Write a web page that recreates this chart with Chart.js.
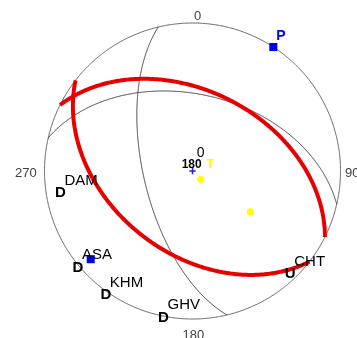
<!DOCTYPE html>
<html>
<head>
<meta charset="utf-8">
<script src="https://cdn.jsdelivr.net/npm/chart.js@4/dist/chart.umd.min.js"></script>
<style>
  html, body { margin: 0; padding: 0; background: #fff; }
  #wrap { width: 357px; height: 338px; }
</style>
</head>
<body>
<div id="wrap"><canvas id="c" width="357" height="338"></canvas></div>
<script>
// Fault-plane solutions: strike / dip (degrees, right-hand rule)
const redPlaneStrikes = [296.5, 127.8];
const redPlaneDips = [45, 44];
const blackPlaneStrikes = [166.6, 283.0];
const blackPlaneDips = [63, 47];

// Stations: azimuth, take-off angle, first-motion polarity
const stationNames = ['DAM', 'ASA', 'KHM', 'GHV', 'CHT'];
const stationAzimuths = [261.0, 230.2, 215.2, 191.3, 136.1];
const stationTakeoffs = [79.4, 90.9, 91.8, 90.1, 84.7];
const stationPolarities = ['D', 'D', 'D', 'D', 'U'];

// P and T axes (trend / plunge) of the two solutions
const pAxisTrends = [33.1, 229.1];
const pAxisPlunges = [0, 9.9];
const tAxisTrends = [135.4, 125.3];
const tAxisPlunges = [83.6, 50.4];

// Azimuth labels around the net
const compassLabels = ['0', '90', '180', '270'];

const D2R = Math.PI / 180;

// Lower-hemisphere equal-area (Schmidt) projection, unit primitive circle
function project(trend, plunge) {
  const r = Math.SQRT2 * Math.sin((90 - plunge) * D2R / 2);
  return { x: r * Math.sin(trend * D2R), y: r * Math.cos(trend * D2R) };
}

// Great circle for a plane: sweep lines lying in the plane from strike to strike+180
function greatCircle(strike, dip) {
  const s = strike * D2R, d = dip * D2R;
  const sh = [Math.cos(s), Math.sin(s), 0];
  const dh = [Math.cos(d) * Math.cos(s + Math.PI / 2), Math.cos(d) * Math.sin(s + Math.PI / 2), Math.sin(d)];
  const pts = [];
  for (let a = 0; a <= 180; a += 1) {
    const c = Math.cos(a * D2R), sn = Math.sin(a * D2R);
    const n = c * sh[0] + sn * dh[0];
    const e = c * sh[1] + sn * dh[1];
    const dn = Math.max(-1, Math.min(1, c * sh[2] + sn * dh[2]));
    const trend = Math.atan2(e, n) / D2R;
    const plunge = Math.asin(dn) / D2R;
    pts.push(project(trend, plunge));
  }
  return pts;
}

function primitive() {
  const pts = [];
  for (let a = 0; a <= 360; a += 1) pts.push(project(a, 0));
  return pts;
}

const stationPoints = stationNames.map((n, i) => project(stationAzimuths[i], 90 - stationTakeoffs[i]));
const pPoints = pAxisTrends.map((t, i) => project(t, pAxisPlunges[i]));
const tPoints = tAxisTrends.map((t, i) => project(t, tAxisPlunges[i]));

// tiny tension keeps Chart.js on its full path renderer (no per-column merging)
const lineDs = (data, color, width, order) => ({
  data, showLine: true, borderColor: color, borderWidth: width,
  pointRadius: 0, fill: false, tension: 0.0001, order
});

const datasets = [
  lineDs(primitive(), '#5a5a5a', 1, 5),
  ...blackPlaneStrikes.map((s, i) => lineDs(greatCircle(s, blackPlaneDips[i]), '#3a3a3a', 1, 4)),
  ...redPlaneStrikes.map((s, i) => lineDs(greatCircle(s, redPlaneDips[i]), '#e80000', 4, 3)),
  { data: tPoints, pointStyle: 'circle', pointRadius: 3.6, backgroundColor: '#ffff00', borderWidth: 0, order: 2 },
  { data: pPoints, pointStyle: 'rect', pointRadius: 5.7, backgroundColor: '#0000ff', borderWidth: 0, order: 1 },
  { data: [{ x: 0, y: 0 }], pointStyle: 'cross', pointRadius: 3.2, borderColor: '#2020ff', borderWidth: 1.5, order: 0 },
  { data: stationPoints, pointRadius: 0, order: 0 }
];

// Text layer: station polarities and codes, axis labels, azimuth labels
const textLayer = {
  id: 'textLayer',
  afterDatasetsDraw(chart) {
    const { ctx, scales: { x, y } } = chart;
    const px = p => [x.getPixelForValue(p.x), y.getPixelForValue(p.y)];
    const txt = (s, X, Y, font, color, align) => {
      ctx.font = font; ctx.fillStyle = color;
      ctx.textAlign = align || 'left'; ctx.textBaseline = 'alphabetic';
      ctx.fillText(s, X, Y);
    };
    ctx.save();
    const sans = '"Liberation Sans", Arial, sans-serif';

    // stations
    stationPoints.forEach((p, i) => {
      const [X, Y] = px(p);
      txt(stationPolarities[i], X, Y + 5.4, 'bold 15px ' + sans, '#000', 'center');
      txt(stationNames[i], X + 4, Y - 7, '15px ' + sans, '#000', 'left');
    });

    // P axis label of the red solution
    const [pxX, pxY] = px(pPoints[0]);
    txt('P', pxX + 3, pxY - 7, 'bold 14px ' + sans, '#0000ff', 'left');

    // centre labels
    const [cX, cY] = px({ x: 0, y: 0 });
    txt('0', cX + 4.2, cY - 13.7, '14px ' + sans, '#000', 'left');
    txt('180', cX - 10.8, cY - 2.7, 'bold 12px ' + sans, '#000', 'left');
    txt('T', cX + 14, cY - 3.5, 'bold 12px ' + sans, '#ffff00', 'left');

    // azimuth labels
    const [nX, nY] = px({ x: 0, y: 1 });
    const [eX, eY] = px({ x: 1, y: 0 });
    const [sX, sY] = px({ x: 0, y: -1 });
    const [wX, wY] = px({ x: -1, y: 0 });
    const cf = '13px ' + sans, cc = '#404040';
    txt(compassLabels[0], nX + 1.5, nY - 3, cf, cc, 'left');
    txt(compassLabels[1], eX + 4.5, eY + 5.7, cf, cc, 'left');
    txt(compassLabels[2], sX + 0.8, sY + 19.5, cf, cc, 'center');
    txt(compassLabels[3], wX - 7.8, wY + 5.7, cf, cc, 'right');
    ctx.restore();
  }
};

new Chart(document.getElementById('c'), {
  type: 'scatter',
  data: { datasets },
  options: {
    responsive: false,
    animation: false,
    events: [],
    layout: { padding: 0, autoPadding: false },
    plugins: { legend: { display: false }, tooltip: { enabled: false } },
    scales: {
      x: { type: 'linear', display: false, min: -192.5 / 148, max: 164.5 / 148 },
      y: { type: 'linear', display: false, min: -167 / 148, max: 171 / 148 }
    }
  },
  plugins: [textLayer]
});
</script>
</body>
</html>
